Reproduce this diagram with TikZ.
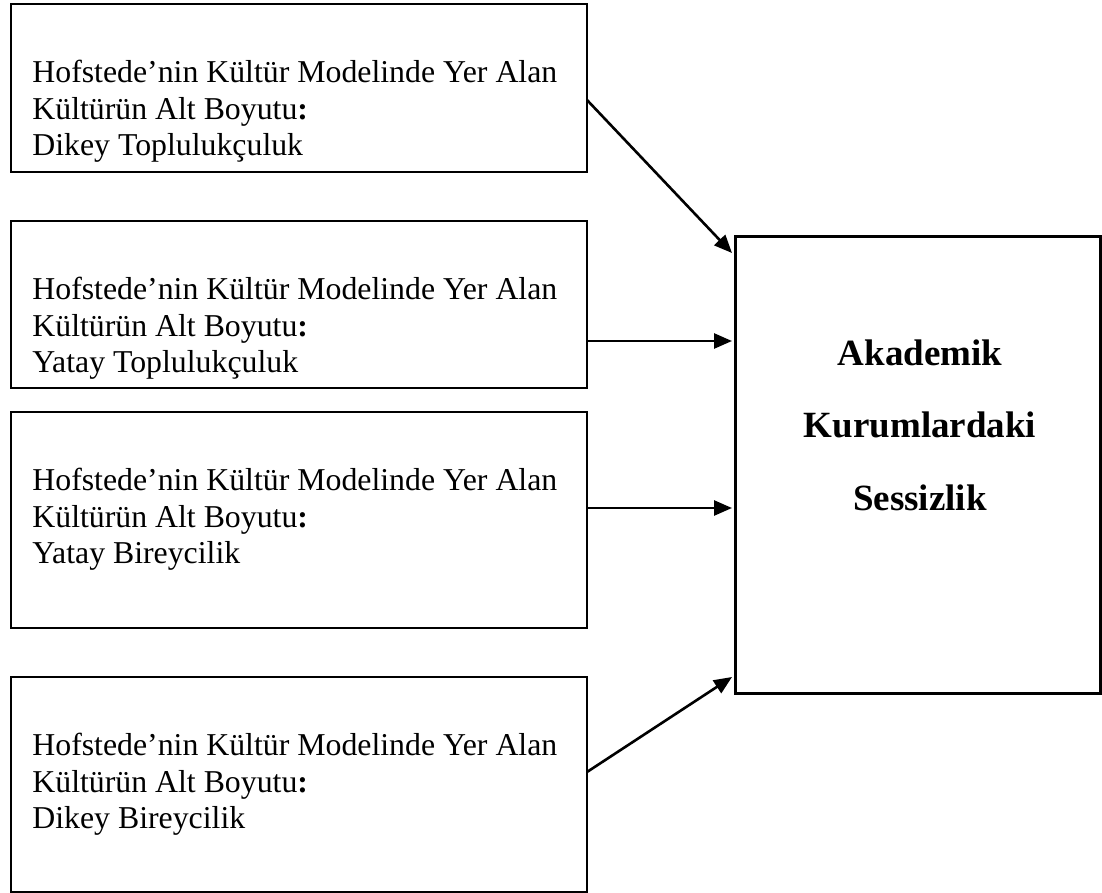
\documentclass[tikz,border=0pt]{standalone}
\usepackage{fontspec}
\setmainfont{Liberation Serif}
\usetikzlibrary{arrows.meta,calc}
\begin{document}
\begin{tikzpicture}[x=0.5pt,y=-0.5pt,
  leftbox/.style={draw, line width=0.85pt, minimum width=288pt, anchor=north west, inner sep=0pt, outer sep=0pt},
  lefttext/.style={anchor=north west, inner sep=0pt, align=left, font=\fontsize{15.9pt}{18.35pt}\selectfont},
  rightbox/.style={draw, line width=1.5pt, minimum width=182.5pt, minimum height=228pt, anchor=north west, inner sep=0pt, outer sep=0pt},
  righttext/.style={anchor=north, inner sep=0pt, align=center, font=\bfseries\fontsize{18.5pt}{36.25pt}\selectfont},
  arr/.style={-{Triangle[length=9pt,width=7.5pt]}, line width=1.3pt}]
\useasboundingbox (0,0) rectangle (1102,893);
\clip (0,0) rectangle (1102,893);
\fill[white] (0,0) rectangle (1102,893);

\node[leftbox, minimum height=84pt]   (b1) at (11,4)   {};
\node[leftbox, minimum height=83.5pt] (b2) at (11,221) {};
\node[leftbox, minimum height=108pt]  (b3) at (11,412) {};
\node[leftbox, minimum height=107.5pt](b4) at (11,677) {};
\node[rightbox] (r) at (735,237) {};

\node[lefttext] (t1) at (32,42)  {\rule{0pt}{20pt}Hofstede’nin Kültür Modelinde Yer Alan\\Kültürün Alt Boyutu\textbf{:}\\Dikey Toplulukçuluk};
\node[lefttext] (t2) at (32,259) {\rule{0pt}{20pt}Hofstede’nin Kültür Modelinde Yer Alan\\Kültürün Alt Boyutu\textbf{:}\\Yatay Toplulukçuluk};
\node[lefttext] (t3) at (32,450) {\rule{0pt}{20pt}Hofstede’nin Kültür Modelinde Yer Alan\\Kültürün Alt Boyutu\textbf{:}\\Yatay Bireycilik};
\node[lefttext] (t4) at (32,715) {\rule{0pt}{20pt}Hofstede’nin Kültür Modelinde Yer Alan\\Kültürün Alt Boyutu\textbf{:}\\Dikey Bireycilik};

\node[righttext] (rt) at (920,325) {\rule{0pt}{20pt}Akademik\\Kurumlardaki\\Sessizlik};

\draw[arr] ($(b1.north east)+(0,96)$)  -- ($(r.north west)+(-3,16)$);
\draw[arr] ($(b2.north east)+(0,120)$) -- ($(r.north west)+(-3,104)$);
\draw[arr] ($(b3.north east)+(0,96)$)  -- ($(r.north west)+(-3,271)$);
\draw[arr] ($(b4.north east)+(0,95)$)  -- ($(r.south west)+(-3,-16)$);
\end{tikzpicture}
\end{document}
